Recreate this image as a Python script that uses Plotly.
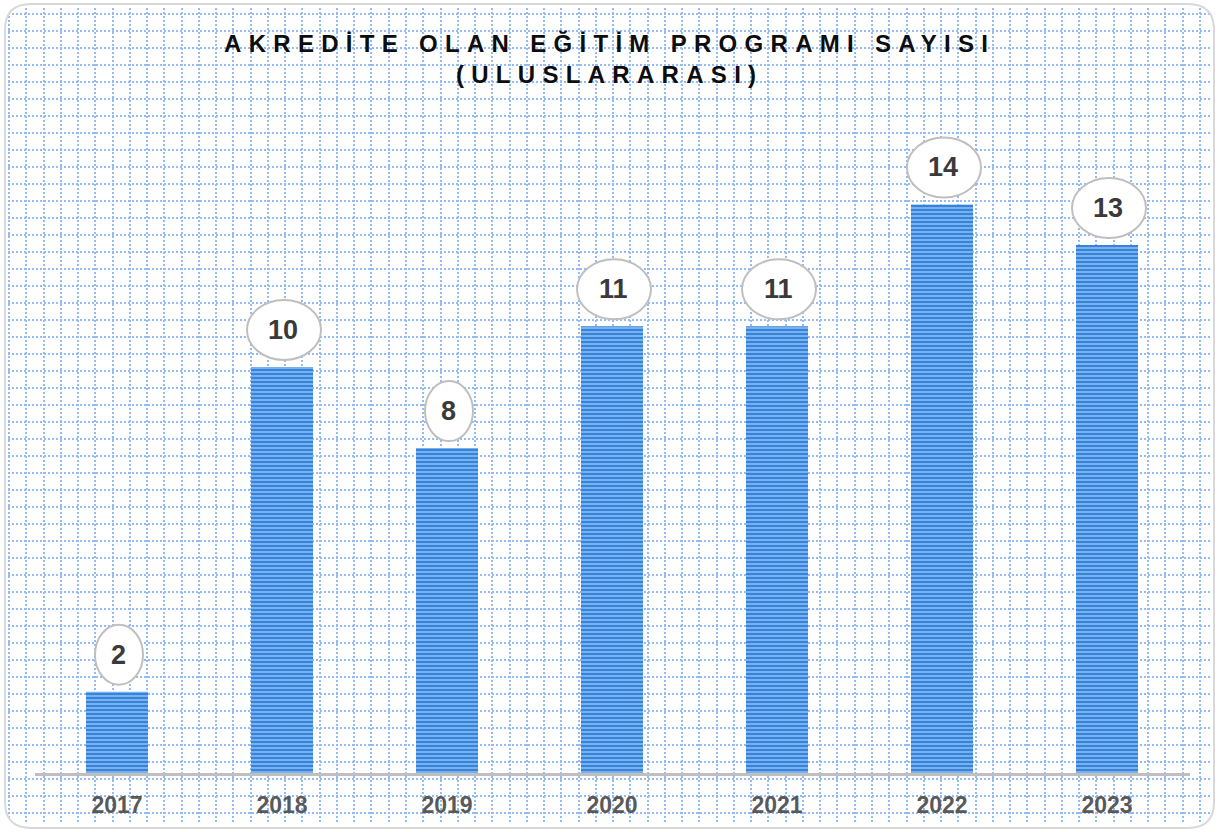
import plotly.graph_objects as go

# ---- data ----
years = ["2017", "2018", "2019", "2020", "2021", "2022", "2023"]
counts = [2, 10, 8, 11, 11, 14, 13]
title_line1 = "AKREDİTE OLAN EĞİTİM PROGRAMI SAYISI"
title_line2 = "(ULUSLARARASI)"

W, H = 1219, 832


def px(x):
    return x / W


def py(y):
    return 1 - y / H


GRID = "#93BBF8"
shapes = []
# dotted background grid (decoration)
k = 0
while 9 + 17.26 * k <= 1211:
    gx = round(9 + 17.26 * k)
    shapes.append(dict(type="line", xref="paper", yref="paper", layer="below",
                       x0=px(gx), x1=px(gx), y0=py(8), y1=py(824),
                       line=dict(color=GRID, width=2, dash="2px,2px")))
    k += 1
k = 0
while 14 + 17.0 * k <= 824:
    gy = round(14 + 17.0 * k)
    shapes.append(dict(type="line", xref="paper", yref="paper", layer="below",
                       x0=px(8), x1=px(1212), y0=py(gy), y1=py(gy),
                       line=dict(color=GRID, width=2, dash="2px,2px")))
    k += 1

# rounded border + corner masks
bx0, by0, bx1, by1, r = 5, 4, 1214, 828, 26


def P(x, y):
    return f"{px(x)},{py(y)}"


corners = [
    f"M{P(0,0)} L{P(bx0+r,0)} L{P(bx0+r,by0)} Q{P(bx0,by0)} {P(bx0,by0+r)} L{P(0,by0+r)} Z",
    f"M{P(W,0)} L{P(bx1-r,0)} L{P(bx1-r,by0)} Q{P(bx1,by0)} {P(bx1,by0+r)} L{P(W,by0+r)} Z",
    f"M{P(0,H)} L{P(bx0+r,H)} L{P(bx0+r,by1)} Q{P(bx0,by1)} {P(bx0,by1-r)} L{P(0,by1-r)} Z",
    f"M{P(W,H)} L{P(bx1-r,H)} L{P(bx1-r,by1)} Q{P(bx1,by1)} {P(bx1,by1-r)} L{P(W,by1-r)} Z",
]
for c in corners:
    shapes.append(dict(type="path", xref="paper", yref="paper", layer="below",
                       path=c, fillcolor="white", line=dict(width=0)))
border = (f"M{P(bx0+r,by0)} L{P(bx1-r,by0)} Q{P(bx1,by0)} {P(bx1,by0+r)} "
          f"L{P(bx1,by1-r)} Q{P(bx1,by1)} {P(bx1-r,by1)} L{P(bx0+r,by1)} "
          f"Q{P(bx0,by1)} {P(bx0,by1-r)} L{P(bx0,by0+r)} Q{P(bx0,by0)} {P(bx0+r,by0)} Z")
shapes.append(dict(type="path", xref="paper", yref="paper", layer="below",
                   path=border, line=dict(color="#D9D9D9", width=2)))

# label ellipses anchored to the data
annotations = []
for i, v in enumerate(counts):
    hw = 11 + 13 * len(str(v))
    shapes.append(dict(type="circle", xref="x", yref="y",
                       xsizemode="pixel", ysizemode="pixel",
                       xanchor=i, yanchor=v,
                       x0=-hw + 2, x1=hw + 2, y0=7, y1=67,
                       fillcolor="white", line=dict(color="#BFBFBF", width=2)))
    annotations.append(dict(x=i, y=v, xref="x", yref="y", text=f"<b>{v}</b>",
                            showarrow=False, yshift=37, xshift=1, yanchor="middle",
                            font=dict(family="Liberation Sans, Arial", size=27,
                                      color="#3A3A3A")))

annotations.append(dict(
    xref="paper", yref="paper", x=0.5, y=py(59), xanchor="center", yanchor="middle",
    showarrow=False,
    text=(f'<span style="letter-spacing:7.3px"><b>{title_line1}</b></span><br>'
          f'<span style="letter-spacing:7.3px"><b>{title_line2}</b></span>'),
    font=dict(family="Liberation Sans, Arial", size=24, color="#0D0D0D")))

fig = go.Figure(go.Bar(
    x=years, y=counts,
    marker=dict(color="#3384DC", line=dict(width=0),
                pattern=dict(shape="-", size=4, solidity=0.5,
                             fgcolor="#C4DCF7", bgcolor="#3384DC",
                             fillmode="overlay")),
    hoverinfo="x+y",
))

fig.update_layout(
    width=W, height=H,
    margin=dict(l=0, r=0, t=0, b=0),
    paper_bgcolor="white", plot_bgcolor="rgba(0,0,0,0)",
    showlegend=False, bargap=0.624,
    shapes=shapes, annotations=annotations,
    xaxis=dict(type="category", range=[-0.5, 6.5], domain=[px(34.5), px(1189.5)],
               showline=True, linecolor="#BFBFBF", linewidth=3, showgrid=False,
               ticks="", ticklabelstandoff=9,
               tickfont=dict(family="Liberation Sans, Arial", size=23, color="#595959",
                             weight="bold"),
               fixedrange=True),
    yaxis=dict(range=[0, 18], domain=[py(773), py(42)], visible=False,
               showgrid=False, zeroline=False, fixedrange=True),
)

fig.write_html("out.html", config={"displayModeBar": False},
               post_script="document.body.style.margin='0';")
